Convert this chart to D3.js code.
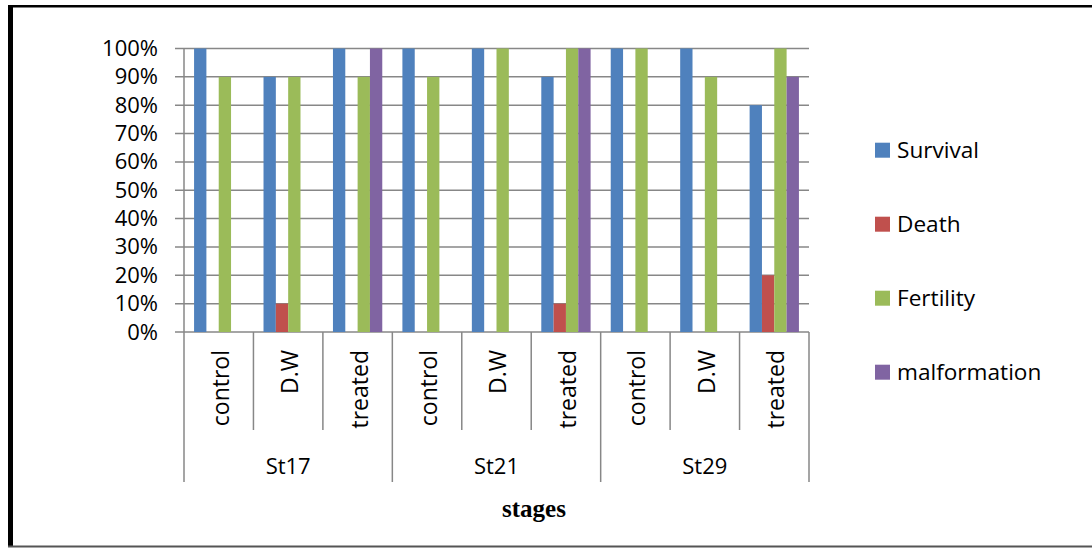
<!DOCTYPE html>
<html>
<head>
<meta charset="utf-8">
<script src="https://cdn.jsdelivr.net/npm/d3@7"></script>
<style>
  body { margin: 0; background: #fff; }
  text { font-family: "Open Sans", sans-serif; fill: #000; }
</style>
</head>
<body>
<div id="chart"></div>
<script>
// data
const stages = ["St17", "St21", "St29"];
const groups = ["control", "D.W", "treated"];
const seriesNames = ["Survival", "Death", "Fertility", "malformation"];
const colors = ["#4F81BD", "#C0504D", "#9BBB59", "#8064A2"];

const survival     = [1.0, 0.9, 1.0, 1.0, 1.0, 0.9, 1.0, 1.0, 0.8];
const death        = [0.0, 0.1, 0.0, 0.0, 0.0, 0.1, 0.0, 0.0, 0.2];
const fertility    = [0.9, 0.9, 0.9, 0.9, 1.0, 1.0, 1.0, 0.9, 1.0];
const malformation = [0.0, 0.0, 1.0, 0.0, 0.0, 1.0, 0.0, 0.0, 0.9];

const yTicks = [0, 0.1, 0.2, 0.3, 0.4, 0.5, 0.6, 0.7, 0.8, 0.9, 1.0];

const width = 1092, height = 548;
const plot = {left: 184, right: 809, top: 48.5, bottom: 332};
const gridColor = "#878787";

// one row per category (stage x group)
const cats = [];
stages.forEach(s => groups.forEach(g => cats.push({stage: s, group: g, key: s + "|" + g})));
const values = [survival, death, fertility, malformation];
const rows = cats.map((c, i) => ({...c, vals: values.map(v => v[i])}));

const x0 = d3.scaleBand()
    .domain(cats.map(c => c.key))
    .range([plot.left, plot.right]);

const bw = x0.bandwidth();
const x1 = d3.scaleBand()
    .domain(seriesNames)
    .range([bw * 0.145, bw * 0.855]);

const xStage = d3.scaleBand()
    .domain(stages)
    .range([plot.left, plot.right]);

const y = d3.scaleLinear()
    .domain([0, 1])
    .range([plot.bottom, plot.top]);

const color = d3.scaleOrdinal().domain(seriesNames).range(colors);

const svg = d3.select("#chart").append("svg")
    .attr("width", width).attr("height", height);

// outer frame (cropped on the right)
svg.append("line").attr("x1", 10.5).attr("x2", 10.5).attr("y1", 5).attr("y2", 547)
    .attr("stroke", "#000").attr("stroke-width", 5);
svg.append("line").attr("x1", 8).attr("x2", width).attr("y1", 6.2).attr("y2", 6.2)
    .attr("stroke", "#000").attr("stroke-width", 2.5);
svg.append("line").attr("x1", 8).attr("x2", width).attr("y1", 546.5).attr("y2", 546.5)
    .attr("stroke", "#555").attr("stroke-width", 2);

// gridlines
svg.append("g").selectAll("line")
  .data(yTicks)
  .join("line")
    .attr("x1", plot.left - 9).attr("x2", plot.right)
    .attr("y1", d => y(d)).attr("y2", d => y(d))
    .attr("stroke", gridColor).attr("stroke-width", 1.5);

// y axis
const yAxis = d3.axisLeft(y)
    .tickValues(yTicks)
    .tickFormat(d3.format(".0%"))
    .tickSize(9)
    .tickPadding(17);

const gy = svg.append("g")
    .attr("transform", `translate(${plot.left},0)`)
    .call(yAxis);
gy.select(".domain").remove();
gy.selectAll(".tick line").remove();
gy.selectAll("text")
    .style("font-family", "'Open Sans', sans-serif")
    .style("font-size", "22px")
    .attr("fill", "#000");

svg.append("line")
    .attr("x1", plot.left).attr("x2", plot.left)
    .attr("y1", plot.top).attr("y2", plot.bottom)
    .attr("stroke", gridColor).attr("stroke-width", 1.5);

// bars
const catG = svg.append("g").selectAll("g")
  .data(rows)
  .join("g")
    .attr("transform", d => `translate(${x0(d.key)},0)`);

catG.selectAll("rect")
  .data(d => d.vals.map((v, i) => ({name: seriesNames[i], value: v})))
  .join("rect")
    .attr("x", d => x1(d.name))
    .attr("width", x1.bandwidth())
    .attr("y", d => y(d.value))
    .attr("height", d => y(0) - y(d.value))
    .attr("fill", d => color(d.name));

// category separators
const catEdges = cats.map(c => x0(c.key)).concat([plot.right]);
svg.append("g").selectAll("line")
  .data(catEdges)
  .join("line")
    .attr("x1", d => d).attr("x2", d => d)
    .attr("y1", plot.bottom)
    .attr("y2", (d, i) => i % 3 === 0 ? 482 : 430)
    .attr("stroke", gridColor).attr("stroke-width", 1.5);

// group labels (rotated)
svg.append("g").selectAll("text")
  .data(cats)
  .join("text")
    .attr("transform", d => `translate(${x0(d.key) + bw / 2},350) rotate(-90)`)
    .attr("text-anchor", "end")
    .attr("dy", "0.43em")
    .style("font-size", "23px")
    .text(d => d.group);

// stage labels
svg.append("g").selectAll("text")
  .data(stages)
  .join("text")
    .attr("x", d => xStage(d) + xStage.bandwidth() / 2)
    .attr("y", 474)
    .attr("text-anchor", "middle")
    .style("font-size", "22px")
    .text(d => d);

// axis title
svg.append("text")
    .attr("x", 534)
    .attr("y", 517)
    .attr("text-anchor", "middle")
    .style("font-family", "'Liberation Serif', 'Times New Roman', serif")
    .style("font-weight", "bold")
    .style("font-size", "25px")
    .text("stages");

// legend
const legend = svg.append("g").selectAll("g")
  .data(seriesNames)
  .join("g")
    .attr("transform", (d, i) => `translate(875,${142.7 + i * 74})`);

legend.append("rect")
    .attr("width", 15).attr("height", 15)
    .attr("fill", d => color(d));

legend.append("text")
    .attr("x", 22)
    .attr("y", 15.5)
    .style("font-size", "22.6px")
    .text(d => d);
</script>
</body>
</html>
